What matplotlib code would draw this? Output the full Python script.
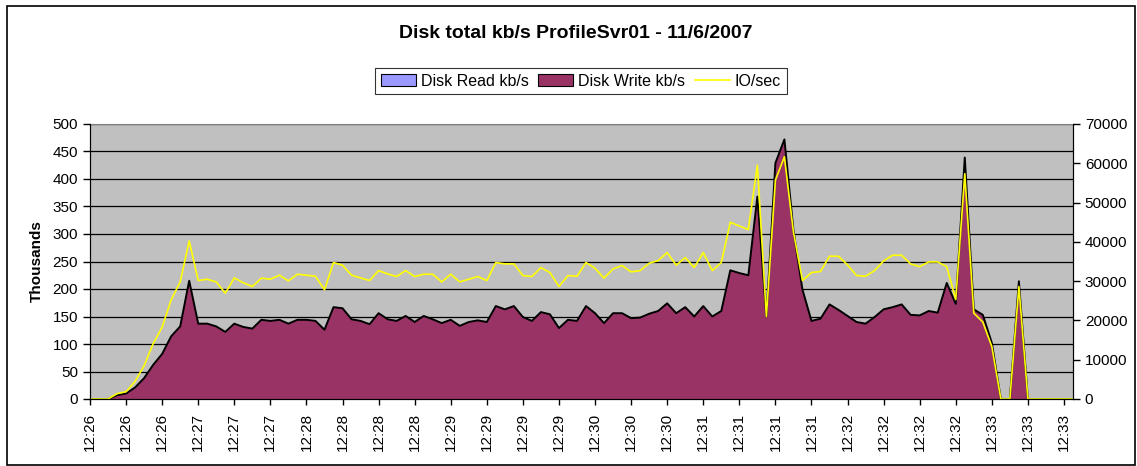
import matplotlib
matplotlib.use('Agg')
import matplotlib.pyplot as plt
from matplotlib.patches import Patch, Rectangle
from matplotlib.lines import Line2D

plt.rcParams['font.family'] = ['Liberation Sans', 'DejaVu Sans']

title = 'Disk total kb/s ProfileSvr01 - 11/6/2007'

# disk write in thousands of kb/s, one value per sample
disk_write = [0, 0, 0, 7, 10, 21, 38, 62, 82, 114,
              132, 215, 137, 137, 132, 122, 137, 131, 128, 144,
              142, 144, 137, 144, 144, 142, 126, 167, 165, 145,
              142, 136, 156, 145, 142, 151, 140, 151, 145, 138,
              144, 133, 140, 143, 140, 169, 163, 169, 149, 142,
              158, 154, 129, 144, 142, 169, 156, 138, 156, 156,
              147, 148, 155, 160, 174, 156, 167, 150, 169, 150,
              160, 234, 229, 225, 368, 150, 429, 472, 307, 199,
              142, 146, 172, 162, 151, 140, 137, 149, 163, 167,
              172, 153, 152, 160, 157, 211, 173, 439, 163, 153,
              102, 0, 0, 214, 0, 0, 0, 0, 0, 0]
disk_read = [0] * len(disk_write)

io_sec = [0, 0, 0, 1350, 1860, 4490, 8470, 14060, 18300, 25240,
          29800, 40230, 30150, 30490, 29800, 26930, 30830, 29560, 28630, 30750,
          30490, 31510, 30070, 31760, 31510, 31250, 27780, 34730, 34050, 31510,
          30830, 30150, 32690, 31850, 31170, 32690, 31170, 31760, 31760, 29810,
          31760, 29810, 30490, 31170, 30150, 34730, 34390, 34390, 31420, 31170,
          33460, 32190, 28630, 31420, 31250, 34730, 33290, 30750, 33120, 33960,
          32350, 32690, 34560, 35230, 37270, 34050, 36000, 33460, 37270, 32690,
          34730, 44980, 44040, 43110, 59540, 21000, 55730, 61660, 42500, 30150,
          32190, 32440, 36340, 36340, 34130, 31420, 31250, 32690, 35150, 36590,
          36590, 34390, 33710, 34900, 34900, 33680, 25300, 57350, 21850, 19600,
          13350, 0, 0, 28630, 0, 0, 0, 0, 0, 0]

# one label every 4 samples
time_labels = ['12:26'] * 3 + ['12:27'] * 3 + ['12:28'] * 4 + ['12:29'] * 4 + \
              ['12:30'] * 3 + ['12:31'] * 4 + ['12:32'] * 4 + ['12:33'] * 3

read_col = '#9999FF'
write_col = '#993366'
io_col = '#FFFF00'

fig = plt.figure(figsize=(11.37, 4.66), dpi=100)
fig.patches.append(Rectangle((7 / 1137, 0.002), 1128 / 1137, 1 - 6 / 466 - 0.002,
                             transform=fig.transFigure, fill=False,
                             edgecolor='black', linewidth=1.2))

ax = fig.add_axes([90 / 1137, 1 - 399 / 466, (1073 - 90) / 1137, 275 / 466])
ax.set_facecolor('#C0C0C0')

x = list(range(len(disk_write)))
ax.stackplot(x, disk_read, disk_write, colors=[read_col, write_col], linewidth=0)
ax.plot(x, disk_write, color='black', linewidth=1.4)

ax.set_xlim(0, len(x) - 1)
ax.set_ylim(0, 500)
ax.set_yticks(range(0, 501, 50))
ax.grid(axis='y', color='black', linewidth=0.9)
ax.set_axisbelow(True)
ax.set_ylabel('Thousands', fontsize=11, fontweight='bold', labelpad=6)
ax.set_xticks(x[::4])
ax.set_xticklabels(time_labels, rotation=90, fontsize=11)
ax.tick_params(axis='y', labelsize=11, length=5, width=1, direction='out')
ax.tick_params(axis='x', length=4, width=1, pad=6)
for s in ['left', 'bottom']:
    ax.spines[s].set_color('black')
ax.spines['top'].set_color('#808080')

ax2 = ax.twinx()
ax2.plot(x, io_sec, color=io_col, linewidth=1.2)
ax2.set_ylim(0, 70000)
ax2.set_yticks(range(0, 70001, 10000))
ax2.tick_params(axis='y', labelsize=11, length=5, width=1, direction='out')
ax2.spines['right'].set_color('black')
ax2.spines['top'].set_visible(False)

fig.text(576 / 1137, 1 - 33 / 466, title, ha='center', va='center',
         fontsize=14, fontweight='bold')

handles = [Patch(facecolor=read_col, edgecolor='black', linewidth=0.8),
           Patch(facecolor=write_col, edgecolor='black', linewidth=0.8),
           Line2D([], [], color=io_col, linewidth=1.2)]
leg = fig.legend(handles, ['Disk Read kb/s', 'Disk Write kb/s', 'IO/sec'],
                 loc='center', bbox_to_anchor=(581 / 1137, 1 - 81 / 466),
                 ncol=3, fontsize=11.5, frameon=True, fancybox=False,
                 edgecolor='black', handlelength=2.2, handletextpad=0.3,
                 columnspacing=0.6, borderpad=0.35)
leg.get_frame().set_linewidth(0.8)

fig.savefig('out.png', dpi=100)
